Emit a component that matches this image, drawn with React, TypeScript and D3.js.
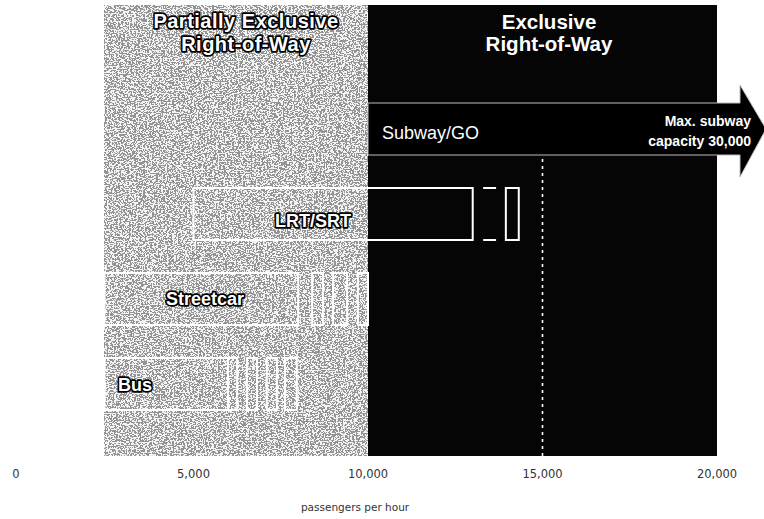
import React from "react";
import * as d3 from "d3";

// ---- data ----
const xDomain = [0, 20000];
const tickValues = [0, 5000, 10000, 15000, 20000];
const tickLabels = ["0", "5,000", "10,000", "15,000", "20,000"];
const axisTitle = "passengers per hour";

const zoneTitles = [["Partially Exclusive", "Right-of-Way"], ["Exclusive", "Right-of-Way"]];
const zoneStart = [2450, 10000];
const zoneEnd = [10000, 20000];

const modes = ["Subway/GO", "LRT/SRT", "Streetcar", "Bus"];
const modeStart = [10000, 5000, 2450, 2450];
const modeEnd = [30000, 13000, 8000, 5990];
const lrtExtra = [[13950, 14320]];
const lrtDash = [[13300, 13670]];
const streetcarExtra = [[8400, 8710], [9000, 9400], [9710, 10000]];
const busExtra = [[5990, 6250], [6530, 6820], [7100, 7390], [7620, 7960]];
const referenceLine = 15000;
const subwayNote = ["Max. subway", "capacity 30,000"];

const W = 764;
const H = 519;

export default function App() {
  const x = d3.scaleLinear().domain(xDomain).range([19, 717]);
  const y = d3.scaleBand<string>().domain(modes).range([103, 410]).paddingInner(33 / 85).paddingOuter(0);
  const bw = y.bandwidth();
  const top = 5;
  const bottom = 456;

  const outlined = {
    fill: "#fff",
    stroke: "#000",
    strokeWidth: 3.4,
    paintOrder: "stroke",
    strokeLinejoin: "round" as const,
    fontFamily: "'Liberation Sans', Arial, sans-serif",
    fontWeight: 700,
  };

  const subY = y("Subway/GO")!;
  const bodyStart = x(modeStart[0]);
  const bodyEnd = x(xDomain[1]) + 23;
  const tipX = bodyEnd + 26;
  const arrowPath = d3.path();
  arrowPath.moveTo(bodyStart, subY);
  arrowPath.lineTo(bodyEnd, subY);
  arrowPath.lineTo(bodyEnd, subY - 18);
  arrowPath.lineTo(tipX, subY + bw / 2);
  arrowPath.lineTo(bodyEnd, subY + bw + 22);
  arrowPath.lineTo(bodyEnd, subY + bw);
  arrowPath.lineTo(bodyStart, subY + bw);
  arrowPath.closePath();

  const boxes: { row: string; s: number; e: number }[] = [];
  const lrtY = "LRT/SRT";
  boxes.push({ row: lrtY, s: modeStart[1], e: modeEnd[1] });
  lrtExtra.forEach(([s, e]) => boxes.push({ row: lrtY, s, e }));
  boxes.push({ row: "Streetcar", s: modeStart[2], e: modeEnd[2] });
  streetcarExtra.forEach(([s, e]) => boxes.push({ row: "Streetcar", s, e }));
  boxes.push({ row: "Bus", s: modeStart[3], e: modeEnd[3] });
  busExtra.forEach(([s, e]) => boxes.push({ row: "Bus", s, e }));

  return (
    <svg width={W} height={H} style={{ position: "absolute", left: 0, top: 0, background: "#fff" }}>
      <defs>
        <filter id="noise" x="0" y="0" width="100%" height="100%" filterUnits="objectBoundingBox">
          <feTurbulence type="fractalNoise" baseFrequency="0.55 0.75" numOctaves="2" seed="11" result="t" />
          <feColorMatrix in="t" type="saturate" values="0" result="g" />
          <feComponentTransfer in="g">
            <feFuncR type="discrete" tableValues="0.3 0.9" />
            <feFuncG type="discrete" tableValues="0.3 0.9" />
            <feFuncB type="discrete" tableValues="0.3 0.9" />
            <feFuncA type="linear" slope="0" intercept="1" />
          </feComponentTransfer>
        </filter>
      </defs>

      {/* zones */}
      <rect x={x(zoneStart[0])} y={top} width={x(zoneEnd[0]) - x(zoneStart[0])} height={bottom - top} fill="#8f8f8f" filter="url(#noise)" />
      <rect x={x(zoneStart[1])} y={top} width={x(zoneEnd[1]) - x(zoneStart[1])} height={bottom - top} fill="#050505" />

      {/* zone titles */}
      <text x={246} y={28} textAnchor="middle" fontSize={20} letterSpacing={0.5} {...outlined}>
        {zoneTitles[0][0]}
      </text>
      <text x={246} y={51} textAnchor="middle" fontSize={20} letterSpacing={0.5} {...outlined}>
        {zoneTitles[0][1]}
      </text>
      <text x={549} y={29} textAnchor="middle" fontSize={20.5} fill="#fff" fontWeight={700} fontFamily="'Liberation Sans', Arial, sans-serif">
        {zoneTitles[1][0]}
      </text>
      <text x={549} y={51} textAnchor="middle" fontSize={20.5} fill="#fff" fontWeight={700} fontFamily="'Liberation Sans', Arial, sans-serif">
        {zoneTitles[1][1]}
      </text>

      {/* reference dotted line */}
      <line x1={x(referenceLine)} x2={x(referenceLine)} y1={subY + bw + 4} y2={bottom} stroke="#fff" strokeWidth={1.6} strokeDasharray="3 4" />

      {/* subway arrow */}
      <path d={arrowPath.toString()} fill="#000" stroke="#bdbdbd" strokeWidth={1} />
      <text x={382} y={139} fontSize={18} fill="#fff" fontFamily="'Liberation Sans', Arial, sans-serif">
        {modes[0]}
      </text>
      <text x={751} y={126} textAnchor="end" fontSize={14} fontWeight={700} fill="#fff" fontFamily="'Liberation Sans', Arial, sans-serif">
        {subwayNote[0]}
      </text>
      <text x={751} y={146} textAnchor="end" fontSize={14} fontWeight={700} fill="#fff" fontFamily="'Liberation Sans', Arial, sans-serif">
        {subwayNote[1]}
      </text>

      {/* mode boxes */}
      {boxes.map((b, i) => (
        <rect key={i} x={x(b.s)} y={y(b.row)!} width={x(b.e) - x(b.s)} height={bw} fill="none" stroke="#fff" strokeWidth={2} />
      ))}
      {lrtDash.map(([s, e], i) => (
        <g key={"d" + i} stroke="#fff" strokeWidth={2}>
          <line x1={x(s)} x2={x(e)} y1={y(lrtY)!} y2={y(lrtY)!} />
          <line x1={x(s)} x2={x(e)} y1={y(lrtY)! + bw} y2={y(lrtY)! + bw} />
        </g>
      ))}

      {/* mode labels */}
      <text x={313} y={227} textAnchor="middle" fontSize={18} {...outlined}>
        {modes[1]}
      </text>
      <text x={205} y={305} textAnchor="middle" fontSize={18} {...outlined}>
        {modes[2]}
      </text>
      <text x={118} y={391} textAnchor="start" fontSize={18} {...outlined}>
        {modes[3]}
      </text>

      {/* axis */}
      {tickValues.map((v, i) => (
        <text key={v} x={x(v) - (i === 0 ? 3 : 0)} y={478} textAnchor="middle" fontSize={11.5} fill="#333" fontFamily="'DejaVu Sans', 'Liberation Sans', sans-serif">
          {tickLabels[i]}
        </text>
      ))}
      <text x={355} y={511} textAnchor="middle" fontSize={10.5} fill="#333" fontFamily="'DejaVu Sans', 'Liberation Sans', sans-serif">
        {axisTitle}
      </text>
    </svg>
  );
}
